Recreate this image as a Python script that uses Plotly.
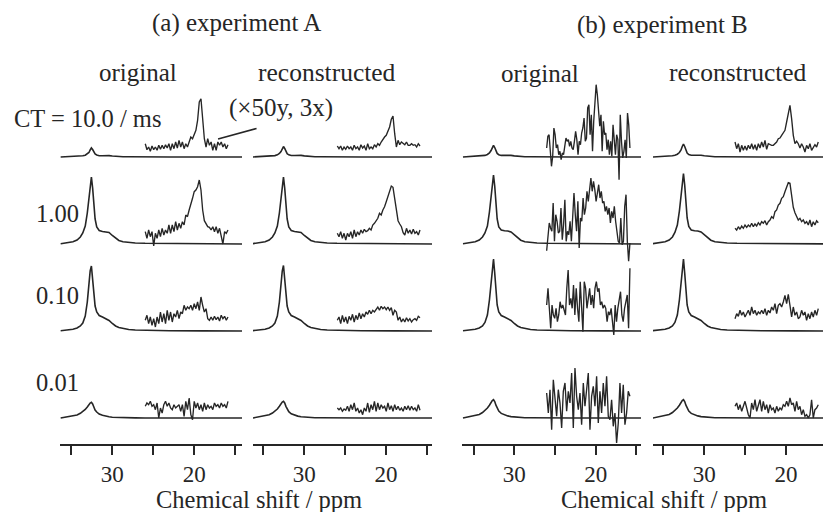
import numpy as np
import plotly.graph_objects as go

W, H = 823, 512
FONT = "Liberation Serif"
INK = "#262626"

# ---------------- data ----------------
# chemical-shift grid of the full spectra (ppm)
PPM = [36.3, 35.5, 34.8, 34.3, 33.9, 33.6, 33.3, 33.05, 32.85, 32.7, 32.55, 32.4, 32.25,
       32.1, 31.9, 31.6, 31.2, 30.8, 30.4, 30.0, 29.6, 29.2, 28.7, 28.0, 27.2, 26.0, 23.0,
       19.0, 14.0]

# full spectra, one list per column: A original, A reconstructed, B original, B reconstructed
MAIN_CT_10_0 = [
    [0, 0.2, 0.4, 0.6, 0.8, 1.2, 1.8, 3, 4.5, 7, 9, 7.5, 5, 3, 2, 1.3, 1.3, 1.6, 1.4, 1, 0.6, 0.4, 0.3, 0.2, 0.1, 0, 0, 0, 0],
    [0, 0.2, 0.4, 0.7, 1, 1.4, 2.2, 3.5, 5.5, 8.5, 10.5, 8.5, 5.5, 3.3, 2.2, 1.5, 1.5, 1.8, 1.6, 1.1, 0.7, 0.5, 0.3, 0.2, 0.1, 0, 0, 0, 0],
    [0, 0.3, 0.5, 0.8, 1.1, 1.6, 2.5, 4, 6.5, 9.5, 11.7, 9.5, 6, 3.6, 2.3, 1.6, 1.6, 1.9, 1.6, 1.1, 0.7, 0.5, 0.3, 0.2, 0.1, 0, 0, 0, 0],
    [0, 0.3, 0.5, 0.8, 1.2, 1.8, 2.8, 4.5, 7, 10.5, 13, 10.5, 6.5, 4, 2.5, 1.8, 1.8, 2.1, 1.8, 1.2, 0.8, 0.5, 0.3, 0.2, 0.1, 0, 0, 0, 0],
]
MAIN_CT_1_00 = [
    [0.3, 1, 2.3, 4, 7, 11, 18, 31, 46, 58, 67, 56, 37, 25, 17, 13.5, 12.5, 12.3, 11.5, 8.5, 5.5, 3.5, 2.2, 1.5, 1, 0.7, 0.4, 0.2, 0],
    [0.3, 1, 2.3, 4, 7, 11, 18, 31, 46, 58, 67, 56, 37, 25, 17, 13.5, 12.5, 12.3, 11.5, 8.5, 5.5, 3.5, 2.2, 1.5, 1, 0.7, 0.4, 0.2, 0],
    [0.3, 1, 2.3, 4, 7, 11, 18, 32, 47, 60, 69, 58, 38, 25, 17, 14, 13.2, 13, 12, 9, 6, 3.8, 2.3, 1.5, 1, 0.7, 0.4, 0.2, 0],
    [0.3, 1, 2.3, 4, 7, 11.5, 19, 33, 48, 62, 70.5, 59, 39, 26, 17.5, 14, 13.2, 13, 12, 9, 6, 3.8, 2.3, 1.5, 1, 0.7, 0.4, 0.2, 0],
]
MAIN_CT_0_10 = [
    [0.3, 0.8, 1.8, 3, 5, 8, 15, 29, 47, 60, 65, 53, 36, 25, 19, 15.5, 14, 12.5, 10.5, 7.5, 5, 3.5, 2.5, 1.5, 1, 0.6, 0.3, 0.1, 0],
    [0.3, 0.8, 1.8, 3, 5, 8, 15, 29, 47, 60, 65.5, 53, 36, 25, 19, 15.5, 14, 12.5, 10.5, 7.5, 5, 3.5, 2.5, 1.5, 1, 0.6, 0.3, 0.1, 0],
    [0.3, 0.8, 1.8, 3, 5, 8.5, 16, 31, 51, 65, 72, 58, 39, 26, 19, 15.5, 14, 12.5, 10.5, 7.5, 5, 3.5, 2.5, 1.5, 1, 0.6, 0.3, 0.1, 0],
    [0.3, 0.8, 1.8, 3, 5, 8.5, 16, 31, 51, 65, 72, 58, 39, 26, 19, 15.5, 14, 12.5, 10.5, 7.5, 5, 3.5, 2.5, 1.5, 1, 0.6, 0.3, 0.1, 0],
]
MAIN_CT_0_01 = [
    [0, 1, 2, 3, 4.7, 6.5, 8.5, 11, 13.5, 15, 15.7, 14, 11, 8, 6, 4, 2.7, 1.8, 1.2, 0.8, 0.6, 0.4, 0.3, 0.2, 0.1, 0, 0, 0, 0],
    [0, 1, 2.1, 3.2, 5, 7, 9, 11.7, 14.3, 16, 16.7, 15, 11.7, 8.5, 6.3, 4.2, 2.8, 1.9, 1.3, 0.9, 0.6, 0.4, 0.3, 0.2, 0.1, 0, 0, 0, 0],
    [0, 1.1, 2.3, 3.5, 5.5, 7.6, 10, 12.8, 15.7, 17.5, 18.3, 16.4, 12.8, 9.3, 6.9, 4.6, 3.1, 2.1, 1.4, 1, 0.7, 0.5, 0.3, 0.2, 0.1, 0, 0, 0, 0],
    [0, 1.1, 2.3, 3.5, 5.5, 7.6, 10, 12.8, 15.7, 17.5, 18.3, 16.4, 12.8, 9.3, 6.9, 4.6, 3.1, 2.1, 1.4, 1, 0.7, 0.5, 0.3, 0.2, 0.1, 0, 0, 0, 0],
]

# expanded insets (x50 vertical, 3x horizontal), sampled evenly across the inset span
INSET_FROM_PPM = [25.98, 25.96, 26.02, 26.24]
INSET_TO_PPM = [15.89, 15.84, 15.79, 16.05]

INSET_CT_10_0 = [
    [13.3, 7.3, 10, 5.7, 11, 7.3, 10, 6.7, 11.7, 7.7, 11.7, 8.3, 12.3, 9, 13.3, 6.7, 13.3, 8.3, 15, 9, 16.7, 10, 15, 8.3, 13.3, 10, 15, 20, 18.3, 21.7, 26.7, 36.7, 55, 58.3, 35, 18.3, 10, 18.3, 11.7, 15, 6.7, 13.3, 6.7, 15, 11.7, 15, 10, 13.3, 8.3, 12.3],
    [11, 8.3, 11, 6.7, 10, 7.7, 11, 8.3, 10, 6.7, 11.7, 8.3, 10, 6.7, 12.3, 9, 11, 6.7, 13.3, 8.3, 10, 8.3, 12.3, 10, 13.3, 11.7, 15, 18.3, 20, 21.7, 26.7, 30, 37.7, 41, 23.3, 10, 16.7, 12.3, 15, 13.3, 12.3, 15, 11.7, 11.7, 13.3, 11.7, 12.3, 10, 13.3, 11],
    [9, 20.7, 22.3, 5.7, -9.3, 0.7, 29, 22.3, 9, 12.3, 2.3, 5.7, -2.7, 4, 2.3, 10.7, 19, 15.7, 17.3, 10.7, 15.7, 9, 7.3, 15.7, 25.7, 17.3, 2.3, 15.7, 12.3, 24, 29, 39, 15.7, 19, 49, 52.3, 22.3, 42.3, 5.7, 35.7, 52.3, 72.3, 62.3, 49, 30.7, 42.3, 5.7, 35.7, 22.3, 24, 7.3, 17.3, 2.3, 15.7, 0.7, 32.3, 17.3, 2.3, 22.3, 17.3, -22.7, 42.3, 15.7, -1, 5.7, 17.3, -1, 44, 32.3, 9],
    [15, 8.3, 13.3, 5, 11.7, 6.7, 11, 6.7, 11.7, 8.3, 13.3, 7.7, 12.3, 6.7, 13.3, 9, 15, 10, 16.7, 7.7, 13.3, 12.3, 11.7, 11.7, 13.3, 15, 18.3, 19, 21.7, 25, 26.7, 35, 45.7, 51.7, 38.3, 21.7, 13.3, 15.7, 13.3, 9, 13.3, 10, 5, 11.7, 8.3, 13.3, 6.7, 10, 12.3, 10, 15],
]
INSET_CT_1_00 = [
    [12.3, 5.7, 14, 7.3, 12.3, -2, 10.7, 5.7, 14, 7.3, 15.7, 9, 14, 10.7, 19, 10.7, 19, 12.3, 22.3, 14, 20.7, 15.7, 22.3, 19, 29, 27.3, 34, 39, 45.7, 52.3, 54, 57.3, 64, 54, 34, 23.3, 20, 17.3, 16.7, 14, 17.3, 12.3, 17.3, 10.7, 15.7, 7.3, 0, 12.3, 10.7, 14],
    [10.7, 7.3, 12.3, 5.7, 10.7, 4, 10.7, 7.3, 12.3, 5.7, 14, 7.3, 12.3, 9, 14, 10.7, 14.7, 12.3, 13.3, 15.7, 14, 19, 20.7, 24, 25.7, 30.7, 29, 34, 37.3, 42.3, 47.3, 50.7, 58, 56.7, 45.7, 34, 23.3, 20, 17.3, 11.3, 9, 15.7, 10.7, 14, 10, 14.7, 10.7, 12.3, 9, 14],
    [-6.7, 9.3, 21, 16, 12.7, 41, 2.7, 29.3, 22.7, 11, 12.7, 36, 4.3, 19.3, 44.3, 2.7, 12.7, 9.3, 22.7, 2.7, 22.7, 51, 29.3, 12.7, 42.7, -4, 26, 22.7, 46, 29.3, 36, 52.7, 42.7, 56, 66, 52.7, 62.7, 54.3, 42.7, 51, 59.3, 46, 52.7, 41, 42.7, 32.7, 37.7, 29.3, 36, 21, 32.7, 26, 37.7, 22.7, 12.7, 2.7, 1, 26, -0.7, 2.7, 37.7, 49.3, 2.7, -17.3, 1],
    [15.7, 14, 17.3, 14.7, 18, 15.7, 19, 16.7, 19, 17.3, 20.7, 17.3, 20, 18, 21.3, 19, 22.3, 20.7, 23.3, 19, 22.3, 24, 27.3, 25.7, 32.3, 34, 39, 40.7, 45.7, 47.3, 52.3, 57.3, 61.3, 60.7, 50.7, 36.7, 31.3, 27.3, 24, 25.7, 22.3, 24, 20.7, 22.3, 19, 24, 17.3, 22.3, 19, 23.3, 21.3],
]
INSET_CT_0_10 = [
    [10.7, 15.7, 7.3, 14, 5.7, 12.3, 4, 14, 7.3, 19, 9, 17.3, 7.3, 20.7, 10.7, 19, 9, 17.3, 14, 20.7, 12.3, 19, 17.3, 25.7, 20.7, 24, 22.3, 25.7, 20.7, 27.3, 22.3, 29, 20.7, 34, 25.7, 19, 22.3, 12.3, 10.7, 14, 10.7, 14.7, 11.3, 14, 10, 15.7, 12.3, 14.7, 10.7, 14],
    [10.7, 14, 7.3, 15.7, 9, 14, 7.3, 14.7, 10.7, 16.7, 9, 15.7, 11.3, 18, 12.3, 17.3, 14, 19, 16.7, 20.7, 17.3, 20.7, 19, 22.3, 24, 20.7, 24.7, 22.3, 24, 21.3, 24, 20.7, 23.3, 15.7, 20.7, 19, 10.7, 14, 9, 12.3, 9, 13.3, 10, 12.3, 9, 11.3, 12.3, 10.7, 14.7, 13.3],
    [26, 42.7, 22.7, 2.7, 26, 16, 12.7, 22.7, 9.3, 16, 29.3, 22.7, 26, 19.3, 16, 42.7, 61, 26, 32.7, 22.7, 46, 16, 42.7, 22.7, 9.3, 49.3, 22.7, -0.7, 49.3, 42.7, 22.7, 32.7, 42.7, 26, 36, 22.7, 42.7, 49.3, 39.3, 42.7, 26, 29.3, 22.7, 26, 22.7, 9.3, 19.3, 16, 22.7, 9.3, -4, 26, 9.3, 22.7, 29.3, 39.3, 16, 9.3, 22.7, 29.3, 36, 2.7, 62.7],
    [12.3, 17.3, 14.7, 20.7, 15.7, 19, 14, 17.3, 20.7, 15.7, 24, 17.3, 20.7, 15.7, 19, 17.3, 20.7, 17.3, 22.3, 15.7, 20.7, 18, 24, 20.7, 27.3, 17.3, 25.7, 27.3, 24, 29, 35.7, 27.3, 36.7, 25.7, 14, 24, 15.7, 19, 12.3, 14, 20.7, 15.7, 19, 10.7, 17.3, 12.3, 19, 14, 20.7, 15.7, 22.3],
]
INSET_CT_0_01 = [
    [11.7, 15, 13.3, 16.7, 11.7, 13.3, 8.3, 15, 0, 10, 5, 13.3, 16.7, 11.7, 15, 10, 8.3, 13.3, 10, 11.7, 13.3, 6.7, 13.3, 1.7, 16.7, 8.3, 20, 3.3, -1.7, 16.7, 10, 15, 8.3, 13.3, 6.7, 15, 8.3, 13.3, 10, 11.7, 8.3, 15, 11.7, 13.3, 10, 15, 11.7, 13.3, 10, 16.7],
    [10, 8.3, 10, 6.7, 9, 7.7, 11.7, 6.7, 13.3, 8.3, 15, 6.7, 10, 5, 8.3, 3.3, 10, 6.7, 15, 5.7, 13.3, 8.3, 16.7, 6.7, 15, 8.3, 13.3, 10, 11.7, 6.7, 15, 8.3, 12.3, 6.7, 13.3, 8.3, 11.7, 7.7, 10, 6.7, 11.7, 8.3, 12.3, 7.7, 11.7, 8.3, 10, 6.7, 13.3, 7.7],
    [25, 5, 28.3, -11.7, 38.3, 21.7, 1.7, 28.3, 15, -10, 26.7, 35, 6.7, 26.7, 15, 45, -10, 50, 21.7, 8.3, 25, -6.7, 35, 11.7, 28.3, 45, -11.7, 21.7, 31.7, 11.7, 41.7, -5, 26.7, 5, 35, 11.7, 41.7, 1.7, -1.7, 18.3, -8.3, 5, -25, -5, 35, 5, 33.3, -6.7, 5, 26.7, 21.7],
    [11.7, 15, 8.3, 13.3, 6.7, 11.7, 16.7, 10, 3.3, 0, 15, 8.3, 18.3, 6.7, 13.3, 18.3, 6.7, 16.7, 8.3, 13.3, 5, 13.3, 8.3, 10, 5, 11.7, 6.7, 10, 8.3, 13.3, 11.7, 16.7, 11.7, 20, 13.3, 15, 6.7, 16.7, 8.3, 11.7, 3.3, 8.3, 1.7, 3.3, 0, 3.3, 18.3, 0, 8.3, 10, 13.3],
]

ROW_LABELS = ["CT = 10.0 / ms", "1.00", "0.10", "0.01"]
COLUMN_LABELS = ["original", "reconstructed", "original", "reconstructed"]
PANEL_TITLES = ["(a) experiment A", "(b) experiment B"]
TICK_VALUES = [35, 30, 25, 20, 15]
TICK_TEXT = ["", "30", "", "20", ""]
AXIS_TITLE = "Chemical shift / ppm"
SCALE_NOTE = "(×50y, 3x)"
NOTE_TARGET_PPM = 17.1   # point on the first inset the pointer touches
NOTE_TARGET_Y = 18

MAIN = [MAIN_CT_10_0, MAIN_CT_1_00, MAIN_CT_0_10, MAIN_CT_0_01]
INSET = [INSET_CT_10_0, INSET_CT_1_00, INSET_CT_0_10, INSET_CT_0_01]

# ---------------- layout geometry (pixels) ----------------
COL_PX = [(60, 242), (253, 432), (462, 641), (653, 823)]
COL_RANGE = [(36.38, 14.18), (36.28, 14.37), (36.42, 14.43), (36.28, 15.47)]
ROW_BASE = [157, 244, 331, 418]
Y_LO, Y_HI = -30, 80
AXIS_Y = 445

fig = go.Figure()
for r in range(4):
    for c in range(4):
        xa, ya = f"x{c + 1}", f"y{r + 1}"
        fig.add_trace(go.Scatter(x=PPM, y=MAIN[r][c], mode="lines",
                                 line=dict(color=INK, width=1.6),
                                 xaxis=xa, yaxis=ya, showlegend=False, hoverinfo="skip"))
        ins = INSET[r][c]
        xs = np.linspace(INSET_FROM_PPM[c], INSET_TO_PPM[c], len(ins))
        fig.add_trace(go.Scatter(x=xs, y=ins, mode="lines",
                                 line=dict(color=INK, width=1.35),
                                 xaxis=xa, yaxis=ya, showlegend=False, hoverinfo="skip"))

axes = {}
for c in range(4):
    name = "xaxis" if c == 0 else f"xaxis{c + 1}"
    axes[name] = dict(
        domain=[COL_PX[c][0] / W, min(COL_PX[c][1] / W, 1.0)],
        range=list(COL_RANGE[c]), anchor="free", position=(H - AXIS_Y) / H,
        showline=True, linecolor=INK, linewidth=1.6,
        ticks="outside", ticklen=9, tickwidth=1.6, tickcolor=INK,
        tickmode="array", tickvals=TICK_VALUES, ticktext=TICK_TEXT,
        tickfont=dict(family=FONT, size=23, color=INK),
        showgrid=False, zeroline=False, fixedrange=True)
for r in range(4):
    name = "yaxis" if r == 0 else f"yaxis{r + 1}"
    b = ROW_BASE[r]
    axes[name] = dict(domain=[(H - (b - Y_LO)) / H, (H - (b - Y_HI)) / H],
                      range=[Y_LO, Y_HI], anchor="free", position=0,
                      visible=False, fixedrange=True)


def label(text, px, py, size=24.5, xanchor="center"):
    return dict(text=text, x=px / W, y=1 - py / H, xref="paper", yref="paper",
                showarrow=False, xanchor=xanchor, yanchor="middle",
                font=dict(family=FONT, size=size, color=INK))


ann = [
    label(PANEL_TITLES[0], 236, 23, 25),
    label(PANEL_TITLES[1], 662, 25, 25),
    label(COLUMN_LABELS[0], 138, 72, 25),
    label(COLUMN_LABELS[1], 327, 72, 25.5),
    label(COLUMN_LABELS[2], 540, 73, 25),
    label(COLUMN_LABELS[3], 738, 72, 25.5),
    label(ROW_LABELS[0], 12, 118, xanchor="left"),
    label(ROW_LABELS[1], 34, 213, xanchor="left"),
    label(ROW_LABELS[2], 34, 295, xanchor="left"),
    label(ROW_LABELS[3], 34, 382, xanchor="left"),
    label(SCALE_NOTE, 227, 108, 25, xanchor="left"),
    label(AXIS_TITLE, 259, 499.5, 24.5),
    label(AXIS_TITLE, 664, 499.5, 24.5),
    dict(text="", x=NOTE_TARGET_PPM, y=NOTE_TARGET_Y, xref="x", yref="y",
         showarrow=True, arrowhead=0, arrowwidth=1.6, arrowcolor=INK,
         ax=40, ay=-11, standoff=0),
]

fig.update_layout(width=W, height=H, margin=dict(l=0, r=0, t=0, b=0),
                  paper_bgcolor="white", plot_bgcolor="rgba(0,0,0,0)",
                  showlegend=False, annotations=ann, **axes)

fig.write_html("out.html")
